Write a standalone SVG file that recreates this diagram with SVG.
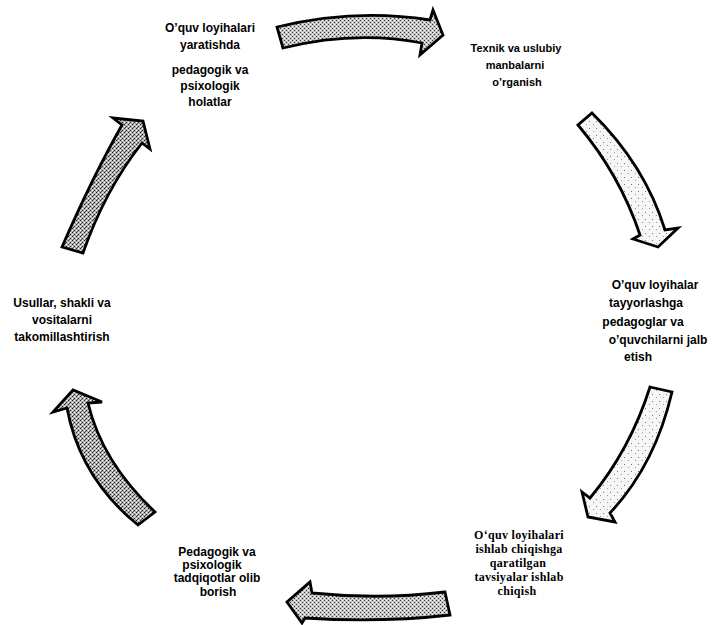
<svg xmlns="http://www.w3.org/2000/svg" width="714" height="625" viewBox="0 0 714 625">
<style>
.t{font-family:"Liberation Sans",Arial,sans-serif;font-weight:bold;font-size:12px;fill:#000;text-anchor:middle}
.s{font-family:"Liberation Serif","Times New Roman",serif;font-weight:bold;font-size:12px;letter-spacing:0.3px;fill:#000;text-anchor:middle}
.arr{stroke:#000;stroke-width:2.8;stroke-linejoin:miter}
.mid{fill:url(#pMid)}
.dark{fill:url(#pDark)}
.light{fill:url(#pLight)}
</style>
<defs>
<pattern id="pMid" width="4" height="4" patternUnits="userSpaceOnUse">
<rect width="4" height="4" fill="#c4c4c4"/>
<rect x="0" y="0" width="1" height="1" fill="#333"/>
<rect x="2" y="2" width="1" height="1" fill="#333"/>
<rect x="2" y="0" width="1" height="1" fill="#fff"/>
<rect x="0" y="2" width="1" height="1" fill="#fff"/>
</pattern>
<pattern id="pDark" width="4" height="4" patternUnits="userSpaceOnUse">
<rect width="4" height="4" fill="#b0b0b0"/>
<rect x="0" y="0" width="1" height="1" fill="#222"/>
<rect x="2" y="2" width="1" height="1" fill="#222"/>
<rect x="1" y="3" width="1" height="1" fill="#555"/>
<rect x="2" y="0" width="1" height="1" fill="#fff"/>
<rect x="0" y="2" width="1" height="1" fill="#fff"/>
</pattern>
<pattern id="pLight" width="7" height="7" patternUnits="userSpaceOnUse">
<rect width="7" height="7" fill="#f6f6f6"/>
<rect x="1" y="2" width="1" height="1" fill="#777"/>
<rect x="5" y="5" width="1" height="1" fill="#999"/>
</pattern>
</defs>

<g id="connectors">
<path id="arrow-top" class="arr mid" d="M277,27 Q355,8 430,20 L433,10 L443,35 L420,55 L422,43 Q355,30 283,48 Z"/>
<path id="arrow-right-upper" class="arr light" d="M592,113 Q645,165 665,230 L678,228 L658,247 L633,239 L640,235 Q620,175 578,125 Z"/>
<path id="arrow-right-lower" class="arr light" d="M650,387 L672,392 Q655,465 610,513 L615,522 L588,517 L582,492 L590,498 Q630,450 650,387 Z"/>
<path id="arrow-bottom" class="arr mid" d="M445,592 Q380,600 312,593 L310,582 L287,602 L302,623 L305,618 Q380,623 450,615 Z"/>
<path id="arrow-left-lower" class="arr dark" d="M138,525 L155,512 Q102,462 88,403 L102,402 L73,390 L53,412 L67,408 Q80,478 138,525 Z"/>
<path id="arrow-left-upper" class="arr dark" d="M62,247 L83,253 Q105,190 142,143 L150,149 L143,121 L113,118 L122,125 Q92,178 62,247 Z"/>
</g>

<g id="node-top-left">
<text class="t" x="210" y="32">O’quv loyihalari</text>
<text class="t" x="210" y="49">yaratishda</text>
<text class="t" x="210" y="74">pedagogik va</text>
<text class="t" x="210" y="90">psixologik</text>
<text class="t" x="210" y="106">holatlar</text>
</g>

<g id="node-top-right">
<text class="t" x="516" y="52" style="font-size:11px">Texnik va uslubiy</text>
<text class="t" x="515" y="69" style="font-size:11px">manbalarni</text>
<text class="t" x="517" y="86" style="font-size:11px">o’rganish</text>
</g>

<g id="node-right">
<text class="t" x="655" y="289">O’quv loyihalar</text>
<text class="t" x="646" y="307">tayyorlashga</text>
<text class="t" x="643" y="326">pedagoglar va</text>
<text class="t" x="658" y="344">o’quvchilarni jalb</text>
<text class="t" x="638" y="361">etish</text>
</g>

<g id="node-bottom-right">
<text class="s" x="519" y="539">O‘quv loyihalari</text>
<text class="s" x="519" y="553">ishlab chiqishga</text>
<text class="s" x="518" y="567">qaratilgan</text>
<text class="s" x="519" y="581">tavsiyalar ishlab</text>
<text class="s" x="517" y="595">chiqish</text>
</g>

<g id="node-bottom-left">
<text class="t" x="217" y="556">Pedagogik va</text>
<text class="t" x="212" y="569">psixologik</text>
<text class="t" x="217" y="582">tadqiqotlar olib</text>
<text class="t" x="218" y="596">borish</text>
</g>

<g id="node-left">
<text class="t" x="62" y="307">Usullar, shakli va</text>
<text class="t" x="62" y="324">vositalarni</text>
<text class="t" x="62" y="341">takomillashtirish</text>
</g>
</svg>
